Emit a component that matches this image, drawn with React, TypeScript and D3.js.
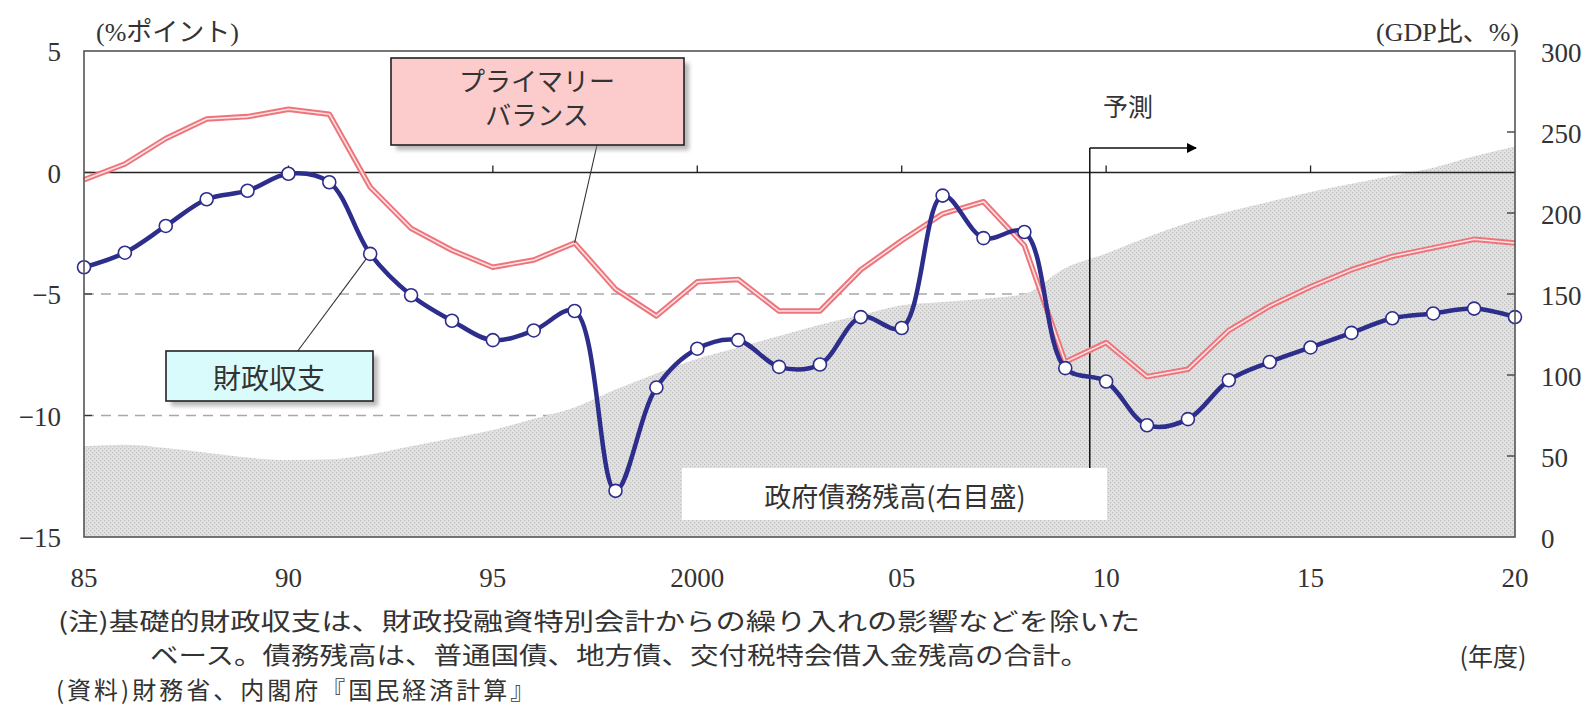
import React from "react";
import * as d3 from "d3";

const years = [1985,1986,1987,1988,1989,1990,1991,1992,1993,1994,1995,1996,1997,1998,1999,2000,2001,2002,2003,2004,2005,2006,2007,2008,2009,2010,2011,2012,2013,2014,2015,2016,2017,2018,2019,2020];
const fiscalBalance = [-3.9,-3.3,-2.2,-1.1,-0.75,-0.05,-0.4,-3.35,-5.05,-6.1,-6.9,-6.5,-5.7,-13.1,-8.85,-7.25,-6.9,-8.0,-7.9,-5.95,-6.4,-0.95,-2.7,-2.45,-8.05,-8.6,-10.4,-10.15,-8.55,-7.8,-7.2,-6.6,-6.0,-5.8,-5.6,-5.95];
const primaryBalance = [-0.3,0.35,1.4,2.2,2.3,2.6,2.4,-0.6,-2.3,-3.2,-3.9,-3.6,-2.9,-4.8,-5.9,-4.5,-4.4,-5.7,-5.7,-4.0,-2.8,-1.7,-1.2,-3.0,-7.8,-7.0,-8.4,-8.1,-6.5,-5.5,-4.7,-4.0,-3.45,-3.1,-2.75,-2.9];
const debtRatio = [56,57,55,52,49,47.5,48,51,56,61,66,73,80,91,101,110,117,124,131,137,143,145,147,150,166,175,185,194,201,207,213,218,223,228,235,241];

const xTickYears = [1985,1990,1995,2000,2005,2010,2015,2020];
const xTickLabels = ["85","90","95","2000","05","10","15","20"];
const leftTicks = [5,0,-5,-10,-15];
const leftTickLabels = ["5","0","−5","−10","−15"];
const rightTicks = [300,250,200,150,100,50,0];
const rightTickLabels = ["300","250","200","150","100","50","0"];
const dashedLevels = [-5,-10];

const forecastStart = 2009.6;
const noteLines = [
  "(注)基礎的財政収支は、財政投融資特別会計からの繰り入れの影響などを除いた",
  "ベース。債務残高は、普通国債、地方債、交付税特会借入金残高の合計。",
  "(資料)財務省、内閣府『国民経済計算』",
];

const W = 1589, H = 706;
const L = 84, R = 1515, T = 51, B = 537;
const SERIF = "'Liberation Serif', 'Noto Sans CJK JP', serif";
const JP = "'Noto Sans CJK JP', sans-serif";

export default function App() {
  const x = d3.scaleLinear().domain([1985, 2020]).range([L, R]);
  const yL = d3.scaleLinear().domain([-15, 5]).range([B, T]);
  const yR = d3.scaleLinear().domain([0, 300]).range([B, T]);

  const area = d3.area<number>()
    .x((_, i) => x(years[i]))
    .y0(yR(0))
    .y1((d) => yR(d))
    .curve(d3.curveMonotoneX)(debtRatio) || "";

  const pbLine = d3.line<number>()
    .x((_, i) => x(years[i]))
    .y((d) => yL(d))
    .curve(d3.curveLinear)(primaryBalance) || "";

  const fbLine = d3.line<number>()
    .x((_, i) => x(years[i]))
    .y((d) => yL(d))
    .curve(d3.curveCatmullRom.alpha(0.5))(fiscalBalance) || "";

  const blue = "#2d2d8c";
  const fx = x(forecastStart);

  return (
    <svg width={W} height={H} style={{ position: "absolute", left: 0, top: 0, background: "#fff" }}>
      <defs>
        <pattern id="dots" width="4" height="4" patternUnits="userSpaceOnUse">
          <rect width="4" height="4" fill="#e2e2e2" />
          <rect x="0" y="0" width="1.2" height="1.2" fill="#bdbdbd" />
          <rect x="2" y="2" width="1.2" height="1.2" fill="#bdbdbd" />
        </pattern>
        <clipPath id="plotClip">
          <rect x={L} y={T} width={R - L} height={B - T} />
        </clipPath>
        <marker id="arrow" viewBox="0 0 10 10" refX="9" refY="5" markerWidth="7" markerHeight="7" orient="auto">
          <path d="M0,0 L10,5 L0,10 z" fill="#000" />
        </marker>
        <filter id="blur" x="-10%" y="-10%" width="130%" height="140%">
          <feGaussianBlur stdDeviation="2" />
        </filter>
      </defs>

      {dashedLevels.map((v) => (
        <line key={v} x1={L} x2={R} y1={yL(v)} y2={yL(v)} stroke="#a8a8a8" strokeWidth={1.5} strokeDasharray="10,7" />
      ))}

      <path d={area} fill="url(#dots)" clipPath="url(#plotClip)" />

      <line x1={L} x2={R} y1={yL(0)} y2={yL(0)} stroke="#222" strokeWidth={1.6} />
      {xTickYears.slice(1, -1).map((yr) => (
        <line key={yr} x1={x(yr)} x2={x(yr)} y1={yL(0)} y2={yL(0) - 7} stroke="#222" strokeWidth={1.3} />
      ))}

      {leftTicks.slice(1, -1).map((v) => (
        <line key={"lt" + v} x1={L} x2={L + 8} y1={yL(v)} y2={yL(v)} stroke="#333" strokeWidth={1.3} />
      ))}
      {rightTicks.slice(1, -1).map((v) => (
        <line key={"rt" + v} x1={R - 8} x2={R} y1={yR(v)} y2={yR(v)} stroke="#333" strokeWidth={1.3} />
      ))}

      <line x1={fx} x2={fx} y1={148} y2={468} stroke="#111" strokeWidth={1.5} />
      <line x1={fx} x2={1196} y1={148} y2={148} stroke="#111" strokeWidth={1.5} markerEnd="url(#arrow)" />
      <text x={1128} y={105} fontFamily={JP} fontSize={25} fill="#333" textAnchor="middle" dominantBaseline="central">予測</text>

      <rect x={682} y={468} width={425} height={52} fill="#fff" />
      <text x={895} y={495} fontFamily={JP} fontSize={27} fill="#333" textAnchor="middle" dominantBaseline="central">政府債務残高(右目盛)</text>

      <path d={pbLine} fill="none" stroke="#ee747c" strokeWidth={5.5} strokeLinejoin="round" />
      <path d={pbLine} fill="none" stroke="#fde3e3" strokeWidth={1.6} strokeLinejoin="round" />

      <path d={fbLine} fill="none" stroke={blue} strokeWidth={4.5} strokeLinejoin="round" />
      {fiscalBalance.map((v, i) => (
        <circle key={i} cx={x(years[i])} cy={yL(v)} r={6.5} fill="#fff" stroke={blue} strokeWidth={1.6} />
      ))}

      <rect x={L} y={T} width={R - L} height={B - T} fill="none" stroke="#555" strokeWidth={1.6} />

      <line x1={597} y1={145} x2={x(1997)} y2={yL(primaryBalance[12])} stroke="#333" strokeWidth={1.1} />
      <line x1={297} y1={352} x2={x(1992) - 4} y2={yL(fiscalBalance[7]) + 5} stroke="#333" strokeWidth={1.1} />

      <rect x={396} y={63} width={293} height={87} fill="#888" opacity={0.6} filter="url(#blur)" />
      <rect x={391} y={58} width={293} height={87} fill="#fccccc" stroke="#222" strokeWidth={1.6} />
      <text x={537} y={79} fontFamily={JP} fontSize={26} fill="#333" textAnchor="middle" dominantBaseline="central">プライマリー</text>
      <text x={537} y={113} fontFamily={JP} fontSize={26} fill="#333" textAnchor="middle" dominantBaseline="central">バランス</text>

      <rect x={171} y={356} width={207} height={50} fill="#888" opacity={0.6} filter="url(#blur)" />
      <rect x={166} y={351} width={207} height={50} fill="#d9fbfb" stroke="#222" strokeWidth={1.6} />
      <text x={269} y={377} fontFamily={JP} fontSize={28} fill="#333" textAnchor="middle" dominantBaseline="central">財政収支</text>

      <text x={96} y={32} fontFamily={SERIF} fontSize={26} fill="#333" dominantBaseline="central">(%ポイント)</text>
      <text x={1519} y={32} fontFamily={SERIF} fontSize={26} fill="#333" textAnchor="end" dominantBaseline="central">(GDP比、%)</text>

      {leftTicks.map((v, i) => (
        <text key={"ll" + v} x={61} y={yL(v) + 1} fontFamily={SERIF} fontSize={27} fill="#333" textAnchor="end" dominantBaseline="central">{leftTickLabels[i]}</text>
      ))}
      {rightTicks.map((v, i) => (
        <text key={"rl" + v} x={1541} y={yR(v) + 2} fontFamily={SERIF} fontSize={27} fill="#333" dominantBaseline="central">{rightTickLabels[i]}</text>
      ))}
      {xTickYears.map((yr, i) => (
        <text key={"xl" + yr} x={x(yr)} y={578} fontFamily={SERIF} fontSize={27} fill="#333" textAnchor="middle" dominantBaseline="central">{xTickLabels[i]}</text>
      ))}

      <text x={58} y={619} fontFamily={JP} fontSize={24} fill="#333" dominantBaseline="central" textLength={1082} lengthAdjust="spacingAndGlyphs">{noteLines[0]}</text>
      <text x={150} y={653} fontFamily={JP} fontSize={24} fill="#333" dominantBaseline="central" textLength={939} lengthAdjust="spacingAndGlyphs">{noteLines[1]}</text>
      <text x={56} y={688} fontFamily={JP} fontSize={24} fill="#333" dominantBaseline="central" letterSpacing={3}>{noteLines[2]}</text>
      <text x={1493} y={655} fontFamily={JP} fontSize={25} fill="#333" textAnchor="middle" dominantBaseline="central">(年度)</text>
    </svg>
  );
}
